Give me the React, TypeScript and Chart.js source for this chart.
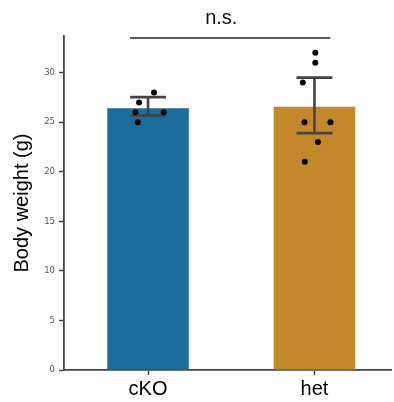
import React, { useEffect, useRef } from "react";
import { Chart, registerables } from "chart.js";

Chart.register(...registerables);

const categories = ["cKO", "het"];
const means = [26.4, 26.57];
const errLow = [25.68, 23.9];
const errHigh = [27.53, 29.5];
const barColors = ["#1a6d9d", "#c2882a"];

// individual points: jitter offsets and values
const cKOValues = [28, 27, 26, 26, 25];
const cKOJitter = [0.036, -0.054, -0.076, 0.094, -0.062];
const hetValues = [32, 31, 29, 25, 25, 23, 21];
const hetJitter = [0.005, 0.005, -0.07, -0.06, 0.096, 0.021, -0.058];

const yTicks = [0, 5, 10, 15, 20, 25, 30];
const sigLabel = "n.s.";
const yTitle = "Body weight (g)";

export default function App() {
  const ref = useRef<HTMLCanvasElement | null>(null);

  useEffect(() => {
    if (!ref.current) return;
    const pts = [
      ...cKOValues.map((v, i) => ({ x: 0 + cKOJitter[i], y: v })),
      ...hetValues.map((v, i) => ({ x: 1 + hetJitter[i], y: v })),
    ];

    const errPlugin = {
      id: "errbars",
      afterDatasetDraw(chart: any, args: any) {
        if (args.index !== 1) return;
        const { ctx, scales } = chart;
        const xs = scales.x;
        const ys = scales.y;
        ctx.save();
        ctx.strokeStyle = "#444444";
        ctx.lineWidth = 2.6;
        ctx.lineCap = "butt";
        for (let i = 0; i < categories.length; i++) {
          const cx = xs.getPixelForValue(i);
          const y1 = ys.getPixelForValue(errLow[i]);
          const y2 = ys.getPixelForValue(errHigh[i]);
          const hw = xs.getPixelForValue(i + 0.108) - cx;
          ctx.beginPath();
          ctx.moveTo(cx, y1);
          ctx.lineTo(cx, y2);
          ctx.moveTo(cx - hw, y1);
          ctx.lineTo(cx + hw, y1);
          ctx.moveTo(cx - hw, y2);
          ctx.lineTo(cx + hw, y2);
          ctx.stroke();
        }
        ctx.restore();
      },
      afterDraw(chart: any) {
        const { ctx, scales } = chart;
        const xs = scales.x;
        const ys = scales.y;
        ctx.save();
        const yb = ys.getPixelForValue(33.5);
        ctx.strokeStyle = "#222222";
        ctx.lineWidth = 1.5;
        ctx.beginPath();
        ctx.moveTo(xs.getPixelForValue(-0.108), yb);
        ctx.lineTo(xs.getPixelForValue(1.096), yb);
        ctx.stroke();
        ctx.fillStyle = "#111111";
        ctx.font = "20px 'Liberation Sans', Arial, sans-serif";
        ctx.textAlign = "center";
        ctx.textBaseline = "alphabetic";
        ctx.fillText(sigLabel, xs.getPixelForValue(0.44), yb - 14);
        ctx.restore();
      },
    };

    const chart = new Chart(ref.current, {
      type: "bar",
      data: {
        datasets: [
          {
            type: "scatter",
            data: pts,
            pointRadius: 3,
            pointHoverRadius: 3,
            backgroundColor: "#000000",
            borderWidth: 0,
          } as any,
          {
            type: "bar",
            data: means.map((m, i) => ({ x: i, y: m })),
            backgroundColor: barColors,
            borderWidth: 0,
            categoryPercentage: 1,
            barPercentage: 0.49,
          } as any,
        ],
      },
      options: {
        animation: false,
        responsive: false,
        maintainAspectRatio: false,
        layout: { padding: { top: 36, right: 0, left: 0, bottom: 0 } },
        plugins: { legend: { display: false }, tooltip: { enabled: false } },
        scales: {
          x: {
            type: "linear",
            min: -0.505,
            max: 1.46,
            bounds: "data",
            offset: false,
            afterBuildTicks: (s: any) => {
              s.ticks = categories.map((_, i) => ({ value: i }));
            },
            afterFit: (s: any) => {
              s.height = 32;
            },
            grid: {
              offset: false,
              drawOnChartArea: false,
              drawTicks: true,
              tickLength: 5,
              tickWidth: 1.5,
              tickColor: "#444444",
            },
            border: { color: "#444444", width: 1.8 },
            ticks: {
              callback: (v: any) => categories[v] ?? "",
              color: "#000000",
              font: { family: "'Liberation Sans', Arial, sans-serif", size: 20 },
              padding: 2,
              maxRotation: 0,
            },
          },
          y: {
            type: "linear",
            min: 0,
            max: 33.7,
            bounds: "data",
            afterBuildTicks: (s: any) => {
              s.ticks = yTicks.map((v) => ({ value: v }));
            },
            afterFit: (s: any) => {
              s.width = 64;
            },
            grid: {
              drawOnChartArea: false,
              drawTicks: true,
              tickLength: 5,
              tickWidth: 1.5,
              tickColor: "#444444",
            },
            border: { color: "#444444", width: 1.8 },
            ticks: {
              color: "#555555",
              font: { family: "'DejaVu Sans', sans-serif", size: 8.5 },
              padding: 4,
            },
            title: {
              display: true,
              text: yTitle,
              color: "#000000",
              font: { family: "'Liberation Sans', Arial, sans-serif", size: 20 },
              padding: { top: 10, bottom: 0 },
            },
          },
        },
      },
      plugins: [errPlugin],
    });
    return () => chart.destroy();
  }, []);

  return (
    <div style={{ position: "fixed", left: 0, top: 0, width: 394, height: 402, background: "#ffffff" }}>
      <canvas ref={ref} width={394} height={402} style={{ display: "block" }} />
    </div>
  );
}
